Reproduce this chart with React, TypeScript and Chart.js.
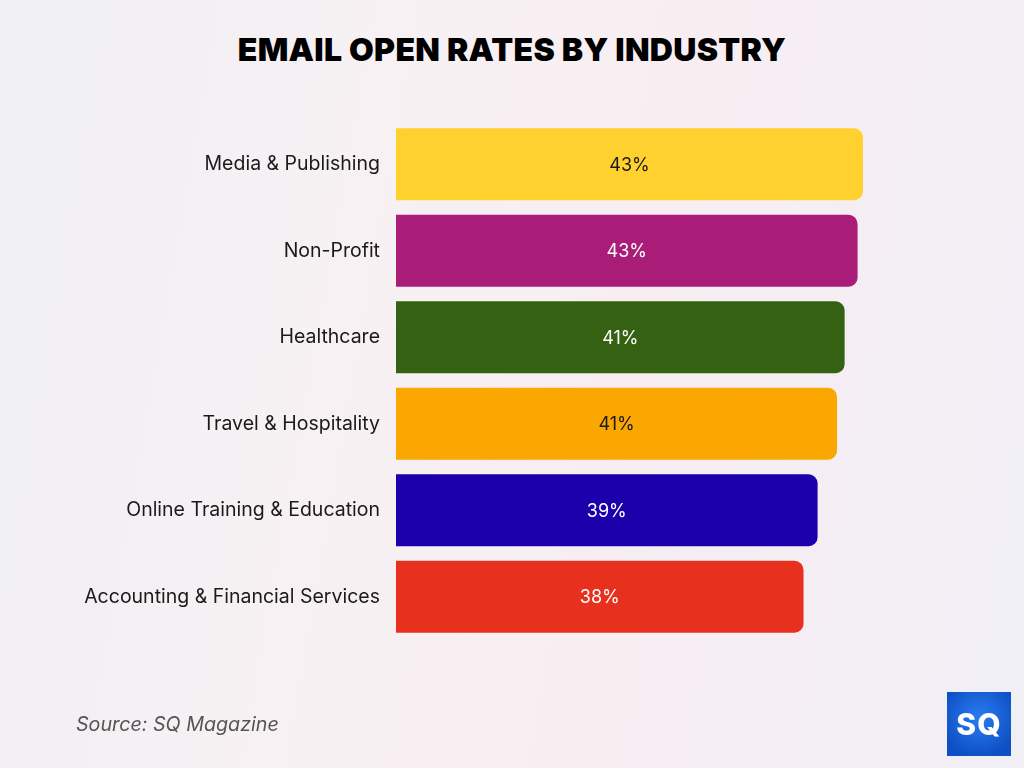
import React, { useEffect, useRef } from "react";
import { Chart, registerables } from "chart.js";

Chart.register(...registerables);

const categories = [
  "Media & Publishing",
  "Non-Profit",
  "Healthcare",
  "Travel & Hospitality",
  "Online Training & Education",
  "Accounting & Financial Services",
];
const openRates = [43.2, 42.7, 41.5, 40.8, 39.0, 37.7];
const valueLabels = ["43%", "43%", "41%", "41%", "39%", "38%"];
const barColors = ["#FFD12F", "#A91D79", "#346112", "#FBA701", "#1B00AC", "#E8301F"];
const labelColors = ["#1a1a1a", "#ffffff", "#ffffff", "#1a1a1a", "#ffffff", "#ffffff"];

const FONT = "Inter, 'Noto Sans', sans-serif";

const barLabelPlugin = {
  id: "barLabels",
  afterDatasetsDraw(chart: any) {
    const ctx = chart.ctx;
    const meta = chart.getDatasetMeta(0);
    ctx.save();
    ctx.font = `400 18px ${FONT}`;
    ctx.textAlign = "center";
    ctx.textBaseline = "middle";
    meta.data.forEach((bar: any, i: number) => {
      const cx = (bar.x + bar.base) / 2;
      ctx.fillStyle = labelColors[i];
      ctx.fillText(valueLabels[i], cx, bar.y + 1);
    });
    ctx.restore();
  },
};

export default function App() {
  const ref = useRef<HTMLCanvasElement | null>(null);

  useEffect(() => {
    if (!ref.current) return;
    const chart = new Chart(ref.current, {
      type: "bar",
      data: {
        labels: categories,
        datasets: [
          {
            data: openRates,
            backgroundColor: barColors,
            borderRadius: { topRight: 9, bottomRight: 9, topLeft: 0, bottomLeft: 0 },
            borderSkipped: false,
            barPercentage: 0.83,
            categoryPercentage: 1,
          },
        ],
      },
      options: {
        indexAxis: "y",
        animation: false,
        responsive: false,
        maintainAspectRatio: false,
        layout: { padding: { top: 121, bottom: 128, left: 0, right: 87.5 } },
        plugins: {
          legend: { display: false },
          tooltip: { enabled: false },
          title: { display: false },
        },
        scales: {
          x: { display: false, min: 0, max: 50 },
          y: {
            grid: { display: false, drawTicks: false },
            border: { display: false },
            ticks: {
              color: "#1a1a1a",
              padding: 16,
              font: { family: FONT, size: 19.5, weight: "400" as any },
            },
            afterFit(scale: any) {
              scale.width = 396;
            },
          },
        },
      },
      plugins: [barLabelPlugin],
    });
    return () => chart.destroy();
  }, []);

  return (
    <div
      style={{
        position: "absolute",
        left: 0,
        top: 0,
        width: 1024,
        height: 768,
        overflow: "hidden",
        background:
          "linear-gradient(100deg, #efeff4 0%, #f7f1f3 35%, #f8eef2 60%, #f0eff6 100%)",
        fontFamily: FONT,
      }}
    >
      <div
        style={{
          position: "absolute",
          left: 0,
          top: 28,
          width: 1024,
          textAlign: "center",
          fontSize: 32,
          fontWeight: 900,
          color: "#000",
          letterSpacing: 0.3,
          lineHeight: "44px",
        }}
      >
        EMAIL OPEN RATES BY INDUSTRY
      </div>
      <canvas ref={ref} width={1024} height={768} style={{ position: "absolute", left: 0, top: 0 }} />
      <div
        style={{
          position: "absolute",
          left: 76,
          top: 710,
          fontSize: 19.7,
          fontStyle: "italic",
          color: "#555",
          lineHeight: "28px",
        }}
      >
        Source: SQ Magazine
      </div>
      <div
        style={{
          position: "absolute",
          left: 947,
          top: 692,
          width: 64,
          height: 64,
          background: "radial-gradient(circle at 50% 40%, #2a7cf0 0%, #0d4fc4 80%)",
          color: "#fff",
          fontWeight: 800,
          fontSize: 30,
          display: "flex",
          alignItems: "center",
          justifyContent: "center",
          letterSpacing: 1,
        }}
      >
        SQ
      </div>
    </div>
  );
}
